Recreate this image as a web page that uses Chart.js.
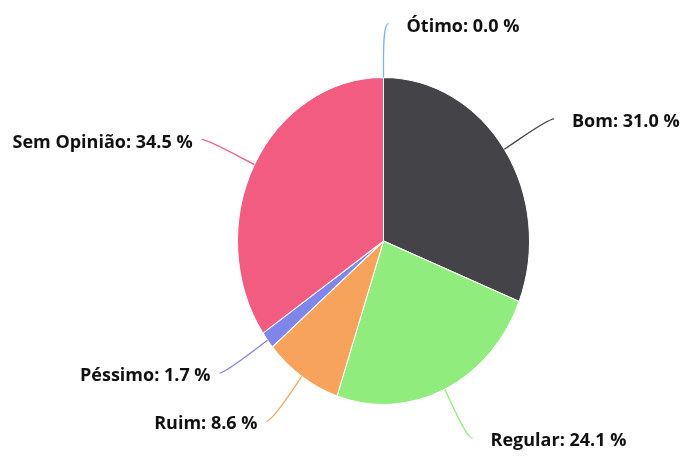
<!DOCTYPE html>
<html>
<head>
<meta charset="utf-8">
<script src="https://cdn.jsdelivr.net/npm/chart.js@4.4.1/dist/chart.umd.min.js"></script>
<style>
html,body{margin:0;padding:0;background:#fff;}
#wrap{width:685px;height:456px;position:relative;}
</style>
</head>
<body>
<div id="wrap"><canvas id="c" width="685" height="456"></canvas></div>
<script>
const categories = ['Ótimo', 'Bom', 'Regular', 'Ruim', 'Péssimo', 'Sem Opinião'];
const percentValues = [0.0, 31.0, 24.1, 8.6, 1.7, 34.5];
const sliceColors = ['#7cb5ec', '#434348', '#90ed7d', '#f7a35c', '#8085e9', '#f15c80'];

const STRETCH_Y = 164 / 146.5; // pie is drawn as a vertical ellipse
const LABEL_DIST = 54;
const FONT = 'bold 18px "Open Sans", "Noto Sans", sans-serif';

const ellipsePlugin = {
  id: 'ellipse',
  beforeDatasetsDraw(chart) {
    const arc = chart.getDatasetMeta(0).data[0];
    const ctx = chart.ctx;
    ctx.save();
    ctx.translate(arc.x, arc.y);
    ctx.scale(1, STRETCH_Y);
    ctx.translate(-arc.x, -arc.y);
  },
  afterDatasetsDraw(chart) {
    chart.ctx.restore();
  }
};

const labelPlugin = {
  id: 'pieLabels',
  afterDraw(chart) {
    const ctx = chart.ctx;
    const meta = chart.getDatasetMeta(0);
    meta.data.forEach((arc, i) => {
      const cx = arc.x, cy = arc.y, r = arc.outerRadius;
      const mid = (arc.startAngle + arc.endAngle) / 2;
      const c = Math.cos(mid), s = Math.sin(mid);
      const right = c > -1e-6;
      const p3 = {x: cx + r * c, y: cy + r * STRETCH_Y * s};
      const p2 = {x: cx + (r + 15) * c, y: cy + (r * STRETCH_Y + 15) * s};
      const L = {x: cx + (r + LABEL_DIST) * c, y: cy + (r * STRETCH_Y + LABEL_DIST) * s};
      const sx = L.x + (right ? 5 : -5);
      ctx.save();
      ctx.strokeStyle = sliceColors[i];
      ctx.lineWidth = 1.3;
      ctx.beginPath();
      ctx.moveTo(sx, L.y);
      ctx.bezierCurveTo(L.x, L.y, 2 * p2.x - p3.x, 2 * p2.y - p3.y, p2.x, p2.y);
      ctx.lineTo(p3.x, p3.y);
      ctx.stroke();
      ctx.font = FONT;
      ctx.fillStyle = '#111';
      ctx.textBaseline = 'middle';
      const txt = categories[i] + ': ' + percentValues[i].toFixed(1) + ' %';
      if (right) {
        ctx.textAlign = 'left';
        ctx.fillText(txt, sx + 18, L.y + 3);
      } else {
        ctx.textAlign = 'right';
        ctx.fillText(txt, sx - 9, L.y + 3);
      }
      ctx.restore();
    });
  }
};

new Chart(document.getElementById('c'), {
  type: 'pie',
  data: {
    labels: categories,
    datasets: [{
      data: percentValues,
      backgroundColor: sliceColors,
      borderColor: '#ffffff',
      borderWidth: 1,
      clip: false
    }]
  },
  options: {
    responsive: false,
    animation: false,
    events: [],
    layout: {padding: {left: 237, right: 155, top: 94.5, bottom: 68.5}},
    plugins: {legend: {display: false}, tooltip: {enabled: false}}
  },
  plugins: [ellipsePlugin, labelPlugin]
});
</script>
</body>
</html>
